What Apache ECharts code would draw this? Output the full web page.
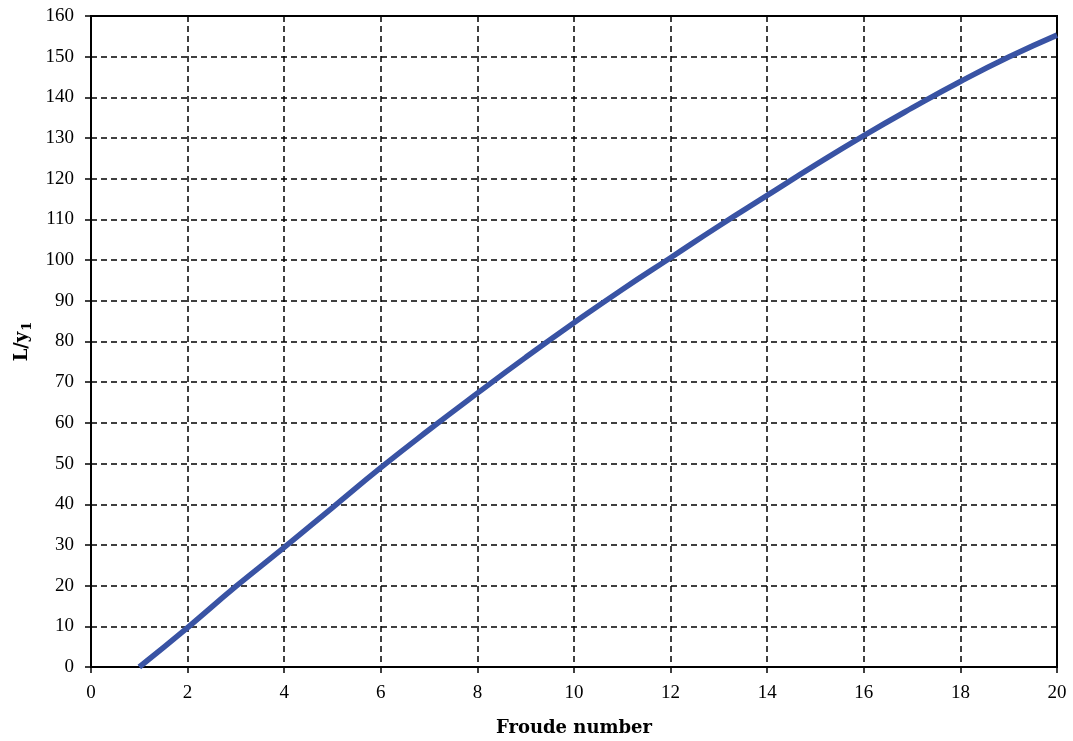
<!DOCTYPE html>
<html>
<head>
<meta charset="utf-8">
<script src="https://cdn.jsdelivr.net/npm/echarts@6/dist/echarts.min.js"></script>
<style>html,body{margin:0;padding:0;background:#fff}#c{width:1073px;height:741px}</style>
</head>
<body>
<div id="c"></div>
<script>
var froude = [1, 2, 3, 4, 5, 6, 7, 8, 9, 10, 11, 12, 13, 14, 15, 16, 17, 18, 19, 20];
var lengthRatio = [0, 9.7, 19.8, 29.4, 39.2, 49.0, 58.3, 67.3, 76.1, 84.6, 92.8, 100.6, 108.4, 115.9, 123.4, 130.6, 137.4, 143.9, 149.9, 155.3];
var xTitle = 'Froude number';
var yTitleMain = 'L/y';
var yTitleSub = '1';

var font = 'Liberation Serif';
var titleFont = 'DejaVu Serif';
var dash = {color: '#000', type: [6, 4], width: 1.5};
var chart = echarts.init(document.getElementById('c'));
chart.setOption({
  animation: false,
  backgroundColor: '#fff',
  grid: {left: 91, right: 16, top: 16, bottom: 74, containLabel: false, outerBoundsMode: 'none',
    show: true, borderColor: '#000', borderWidth: 2, backgroundColor: 'transparent'},
  xAxis: {
    type: 'value', min: 0, max: 20, interval: 2,
    name: xTitle, nameLocation: 'middle', nameGap: 52,
    nameTextStyle: {fontFamily: titleFont, fontWeight: 'bold', fontSize: 18, color: '#000'},
    axisLine: {show: true, lineStyle: {color: '#000', width: 2}},
    axisTick: {show: true, length: 8, lineStyle: dash},
    axisLabel: {fontFamily: font, fontSize: 19, color: '#000', margin: 17},
    splitLine: {show: true, lineStyle: dash}
  },
  yAxis: {
    type: 'value', min: 0, max: 160, interval: 10,
    name: '{a|' + yTitleMain + '}{b|' + yTitleSub + '}', nameLocation: 'middle', nameGap: 56, nameRotate: 90,
    nameTextStyle: {
      rich: {
        a: {fontFamily: titleFont, fontWeight: 'bold', fontSize: 18, color: '#000'},
        b: {fontFamily: titleFont, fontWeight: 'bold', fontSize: 13, color: '#000', padding: [12, 0, 0, 1]}
      }
    },
    axisLine: {show: true, lineStyle: {color: '#000', width: 2}},
    axisTick: {show: true, length: 8, lineStyle: dash},
    axisLabel: {fontFamily: font, fontSize: 19, color: '#000', margin: 17},
    splitLine: {show: true, lineStyle: dash}
  },
  series: [{
    type: 'line',
    data: froude.map(function (f, i) { return [f, lengthRatio[i]]; }),
    smooth: true,
    showSymbol: false,
    lineStyle: {color: '#3953a4', width: 5.5},
    z: 5
  }]
});
</script>
</body>
</html>
